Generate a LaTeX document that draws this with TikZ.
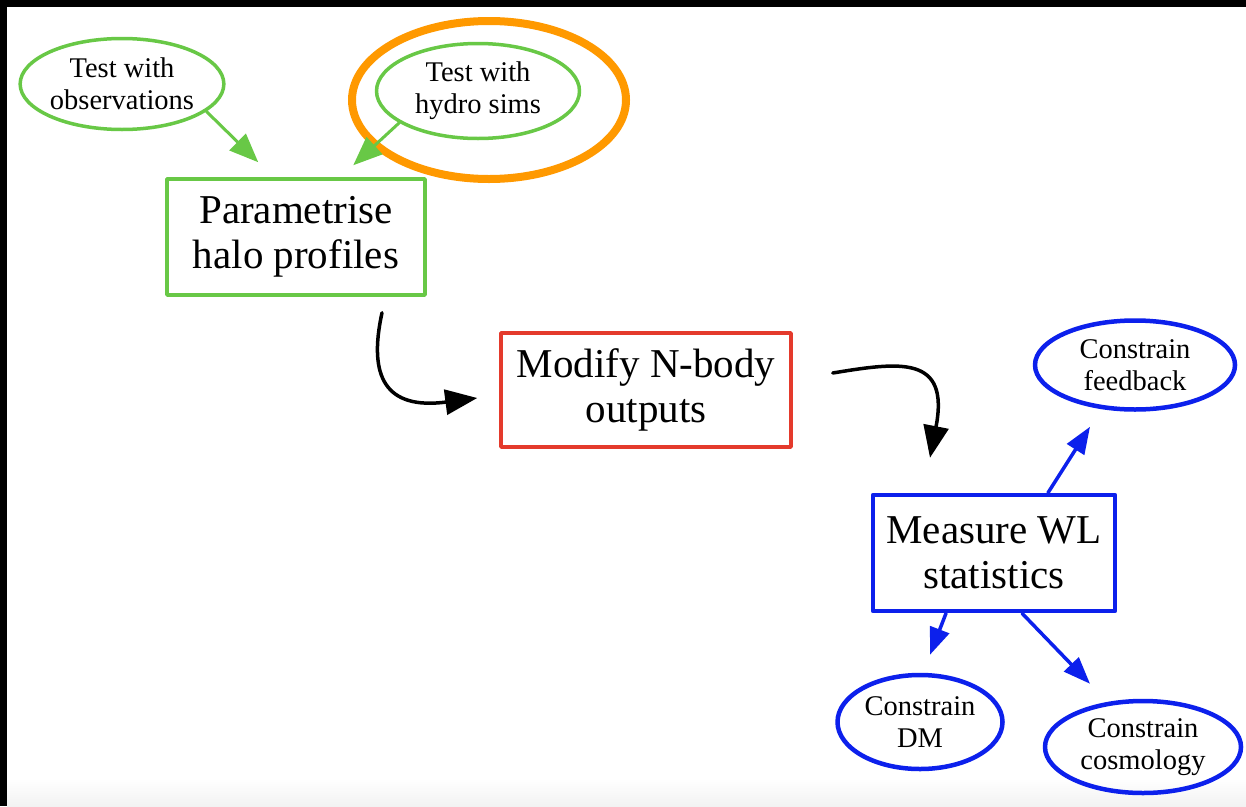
\documentclass[tikz,border=0pt]{standalone}
\usepackage{fontspec}
\setmainfont{Liberation Serif}
\usetikzlibrary{shapes.geometric,arrows.meta}
\definecolor{simgreen}{RGB}{104,200,70}
\definecolor{hlorange}{RGB}{255,153,0}
\definecolor{nbred}{RGB}{228,58,44}
\definecolor{wlblue}{RGB}{12,32,236}

\begin{document}
\begin{tikzpicture}[x=1pt, y=-1pt, line join=round, line cap=round,
        small/.style={ellipse, inner sep=0pt, align=center,
            font=\fontsize{28.5}{32}\selectfont},
        big/.style={rectangle, inner sep=0pt, align=center,
            font=\fontsize{41}{45}\selectfont},
        grn/.style={draw=simgreen, line width=3.5pt},
        blu/.style={draw=wlblue, line width=4.5pt},
        grnarr/.style={simgreen, line width=3pt,
            -{Triangle[length=29pt,width=23pt]}},
        bluarr/.style={wlblue, line width=3.5pt,
            -{Triangle[length=27pt,width=20pt]}},
        blkarr/.style={black, line width=3.5pt,
            -{Triangle[length=32pt,width=25pt]}}]
    \useasboundingbox (0,0) rectangle (1246,806);
    \fill[black] (0,0) rectangle (1246,806);
    \fill[white] (7,7) rectangle (1246,806);
    \shade[top color=white, bottom color=black!5] (7,778) rectangle (1246,806);
    %\draw[gray!20] (0,0) grid[step=50] (1246,806);
    
    % nodes
    \node[small, grn, minimum width=197, minimum height=91] (obs) at (122,84)
        {Test with\\observations};
    \node[small, grn, minimum width=203, minimum height=95] (hydro) at (478,91)
        {Test with\\hydro sims};
    \node[ellipse, draw=hlorange, line width=8pt, minimum width=274,
        minimum height=158] (hydrohl) at (489,100) {};
    \node[big, grn, minimum width=258, minimum height=116] (param) at (296,237)
        {Parametrise\\halo profiles};
    \node[big, draw=nbred, line width=3.5pt, minimum width=290,
        minimum height=114] (modify) at (646,390) {Modify N-body\\outputs};
    \node[big, blu, minimum width=242, minimum height=116] (measure) at (994,553)
        {Measure WL\\statistics};
    \node[small, blu, minimum width=200, minimum height=89] (feedback)
        at (1135,365) {Constrain\\feedback};
    \node[small, blu, minimum width=165, minimum height=94] (dm)
        at (920,722) {Constrain\\DM};
    \node[small, blu, minimum width=196, minimum height=92] (cosmo)
        at (1143,747) {Constrain\\cosmology};
    
    % connectors
    \draw[grnarr] (obs.-18) -- ([shift={(93,-15)}]param.north west);
    \draw[grnarr] (hydro.-158) -- ([shift={(188,-12)}]param.north west);
    \draw[blkarr] ([shift={(86,16)}]param.south) .. controls
        ([shift={(72,80)}]param.south) and ([shift={(-114,20)}]modify.west) ..
        ([shift={(-22,8)}]modify.west);
    \draw[blkarr] ([shift={(40,-17)}]modify.east) .. controls
        ([shift={(107,-28)}]modify.east) and ([shift={(-44,-138)}]measure.north) ..
        ([shift={(-64,-35)}]measure.north);
    \draw[bluarr] ([xshift=54]measure.north) -- ([shift={(-45,15)}]feedback.south);
    \draw[bluarr] ([xshift=-48]measure.south) -- ([shift={(10,-18)}]dm.north);
    \draw[bluarr] ([xshift=28]measure.south) -- ([shift={(-53,-15)}]cosmo.north);
\end{tikzpicture}
\end{document}
